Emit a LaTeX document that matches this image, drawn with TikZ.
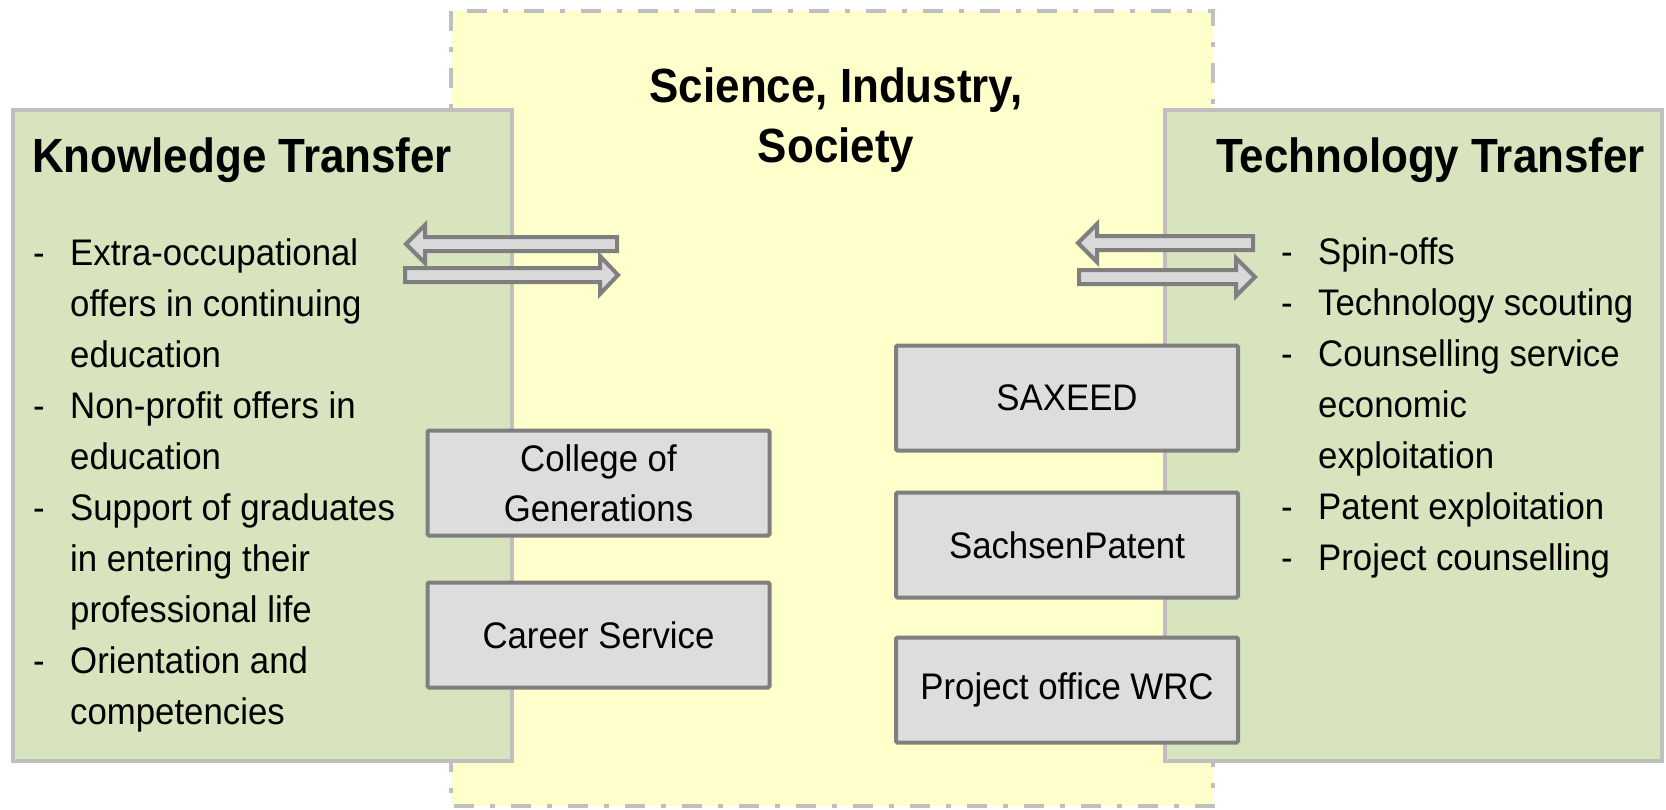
\documentclass[tikz,border=0pt]{standalone}
\usepackage{fontspec}
\setmainfont[FakeStretch=0.94]{Liberation Sans}
\newfontfamily\headfont[FakeStretch=0.915]{Liberation Sans}
\definecolor{yelfill}{HTML}{FFFFCC}
\definecolor{grnfill}{HTML}{D7E4BD}
\definecolor{ltgray}{HTML}{BFBFBF}
\definecolor{dkgray}{HTML}{7F7F7F}
\definecolor{boxfill}{HTML}{DDDDDD}
\definecolor{arrfill}{HTML}{D9D9D9}
\begin{document}
\begin{tikzpicture}[x=1pt,y=-1pt,
  areabox/.style={draw=ltgray, line width=4pt, fill=grnfill},
  centrebox/.style={draw=ltgray, line width=4pt, fill=yelfill,
     dash pattern=on 20pt off 16pt on 5pt off 16pt},
  unitbox/.style={draw=dkgray, line width=4pt, fill=boxfill, rounded corners=1.5pt,
     minimum width=342pt, minimum height=105pt, inner sep=0pt, align=center,
     font=\fontsize{37}{50}\selectfont},
  flowarrow/.style={draw=dkgray, line width=4pt, fill=arrfill, line join=miter},
  headline/.style={inner sep=0pt, font=\headfont\fontsize{48}{60}\selectfont\bfseries},
  body/.style={inner sep=0pt, font=\fontsize{37}{51}\selectfont},
]
\useasboundingbox (0,0) rectangle (1666,809);
% central dashed area
\path[centrebox] (451,11) rectangle (1213,806);
% side areas
\path[areabox] (13,110) rectangle (512,761);
\path[areabox] (1165,110) rectangle (1662,761);
% headings
\node[headline, anchor=base] (sci1) at (836,102) {Science, Industry,};
\node[headline, anchor=base] (sci2) at (836,162) {Society};
\node[headline, anchor=base west] (kt) at (32,172) {Knowledge Transfer};
\node[headline, anchor=base east] (tt) at (1645,172) {Technology Transfer};
% left list
\foreach \t [count=\i from 0] in {Extra-occupational, offers in continuing, education,
   Non-profit offers in, education, Support of graduates, in entering their,
   professional life, Orientation and, competencies}
  \node[body, anchor=base west] (kl\i) at (70,265+51*\i) {\t};
\foreach \i in {0,3,5,8}
  \node[body, anchor=base west] (kd\i) at (33,265+51*\i) {-};
% right list
\foreach \t [count=\i from 0] in {Spin-offs, Technology scouting, Counselling service,
   economic, exploitation, Patent exploitation, Project counselling}
  \node[body, anchor=base west] (tl\i) at (1318,264+51*\i) {\t};
\foreach \i in {0,1,2,5,6}
  \node[body, anchor=base west] (td\i) at (1281,264+51*\i) {-};
% unit boxes
\node[unitbox] (cog) at (598.5,483) {College of\\Generations};
\node[unitbox] (cs) at (598.5,635) {Career Service};
\node[unitbox] (sax) at (1067,398) {SAXEED};
\node[unitbox] (sp) at (1067,545) {SachsenPatent};
\node[unitbox] (pow) at (1067,690) {Project office WRC};
% exchange arrows, left
\path[flowarrow] (617,237) -- (425,237) -- (425,225) -- (406,244) -- (425,263)
   -- (425,251) -- (617,251) -- cycle;
\path[flowarrow] (405,268) -- (600,268) -- (600,256) -- (618,275) -- (600,294)
   -- (600,282) -- (405,282) -- cycle;
% exchange arrows, right
\path[flowarrow] (1253,236) -- (1097,236) -- (1097,224) -- (1078,243) -- (1097,262)
   -- (1097,250) -- (1253,250) -- cycle;
\path[flowarrow] (1079,270) -- (1236,270) -- (1236,258) -- (1255,277) -- (1236,296)
   -- (1236,284) -- (1079,284) -- cycle;
\end{tikzpicture}
\end{document}
